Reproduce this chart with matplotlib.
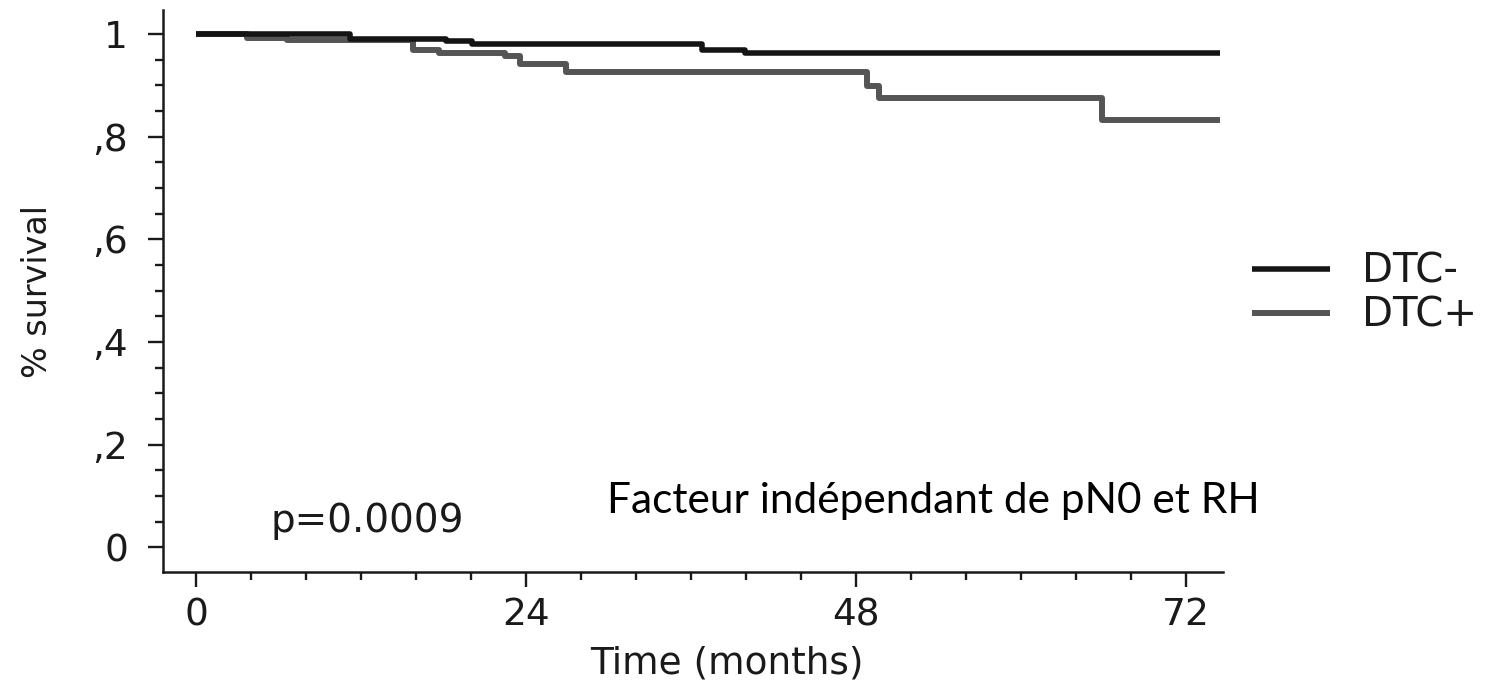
import matplotlib
matplotlib.use("Agg")
from matplotlib import pyplot as plt
from matplotlib.ticker import FixedLocator, MultipleLocator

# Kaplan-Meier steps (months, survival fraction)
neg_times = [0, 11.2, 18.2, 20.1, 36.8, 39.9, 74.5]
neg_surv = [1.0, 0.991, 0.986, 0.981, 0.969, 0.963, 0.963]

pos_times = [0, 3.7, 6.6, 15.8, 17.7, 22.5, 23.6, 26.9, 48.8, 49.7, 65.9, 74.5]
pos_surv = [1.0, 0.992, 0.989, 0.969, 0.963, 0.957, 0.941, 0.927, 0.898, 0.875, 0.833, 0.833]

group_labels = ["DTC-", "DTC+"]
x_ticks = [0, 24, 48, 72]
y_ticks = [0, 0.2, 0.4, 0.6, 0.8, 1.0]
y_tick_labels = ["0", ",2", ",4", ",6", ",8", "1"]

ink = "#1a1a1a"
plt.rcParams["font.family"] = ["DejaVu Sans"]

fig = plt.figure(figsize=(14.99, 6.84), dpi=100)
ax = fig.add_axes([0.1087, 0.1637, 0.7072, 0.8217])

l_pos, = ax.step(pos_times, pos_surv, where="post", color="#555555", lw=4.3,
                 solid_capstyle="butt", label=group_labels[1])
l_neg, = ax.step(neg_times, neg_surv, where="post", color="#141414", lw=4.0,
                 solid_capstyle="butt", label=group_labels[0])

ax.set_xlim(-2.4, 74.7)
ax.set_ylim(-0.048, 1.047)

ax.xaxis.set_major_locator(FixedLocator(x_ticks))
ax.xaxis.set_minor_locator(MultipleLocator(4))
ax.yaxis.set_major_locator(FixedLocator(y_ticks))
ax.yaxis.set_minor_locator(MultipleLocator(0.05))
ax.set_yticklabels(y_tick_labels)

for side in ["top", "right"]:
    ax.spines[side].set_visible(False)
for side in ["left", "bottom"]:
    ax.spines[side].set_linewidth(1.8)
    ax.spines[side].set_color(ink)

ax.tick_params(axis="both", which="major", length=11, width=1.7, color=ink,
               labelsize=27, labelcolor=ink)
ax.tick_params(axis="both", which="minor", length=6, width=1.7, color=ink)
ax.tick_params(axis="y", which="major", pad=14)
ax.tick_params(axis="x", which="major", pad=7)

ax.set_xlabel("Time (months)", fontsize=27, color=ink, va="top")
ax.xaxis.set_label_coords(0.532, -0.13)
ax.set_ylabel("% survival", fontsize=24, color=ink, va="center")
ax.yaxis.set_label_coords(-0.118, 0.5)

ax.text(0.101, 0.071, "p=0.0009", transform=ax.transAxes, fontsize=28,
        color=ink, va="baseline")
ax.text(0.419, 0.105, "Facteur indépendant de pN0 et RH", transform=ax.transAxes,
        fontsize=30.5, family=["Lato", "DejaVu Sans"], color="black", va="baseline")

ax.legend(handles=[l_neg, l_pos], loc="center left", bbox_to_anchor=(1.027, 0.495),
          frameon=False, fontsize=29, handlelength=1.95, handletextpad=0.8,
          labelspacing=0.1, borderpad=0, borderaxespad=0, labelcolor=ink)

fig.savefig("out.png", dpi=100)
